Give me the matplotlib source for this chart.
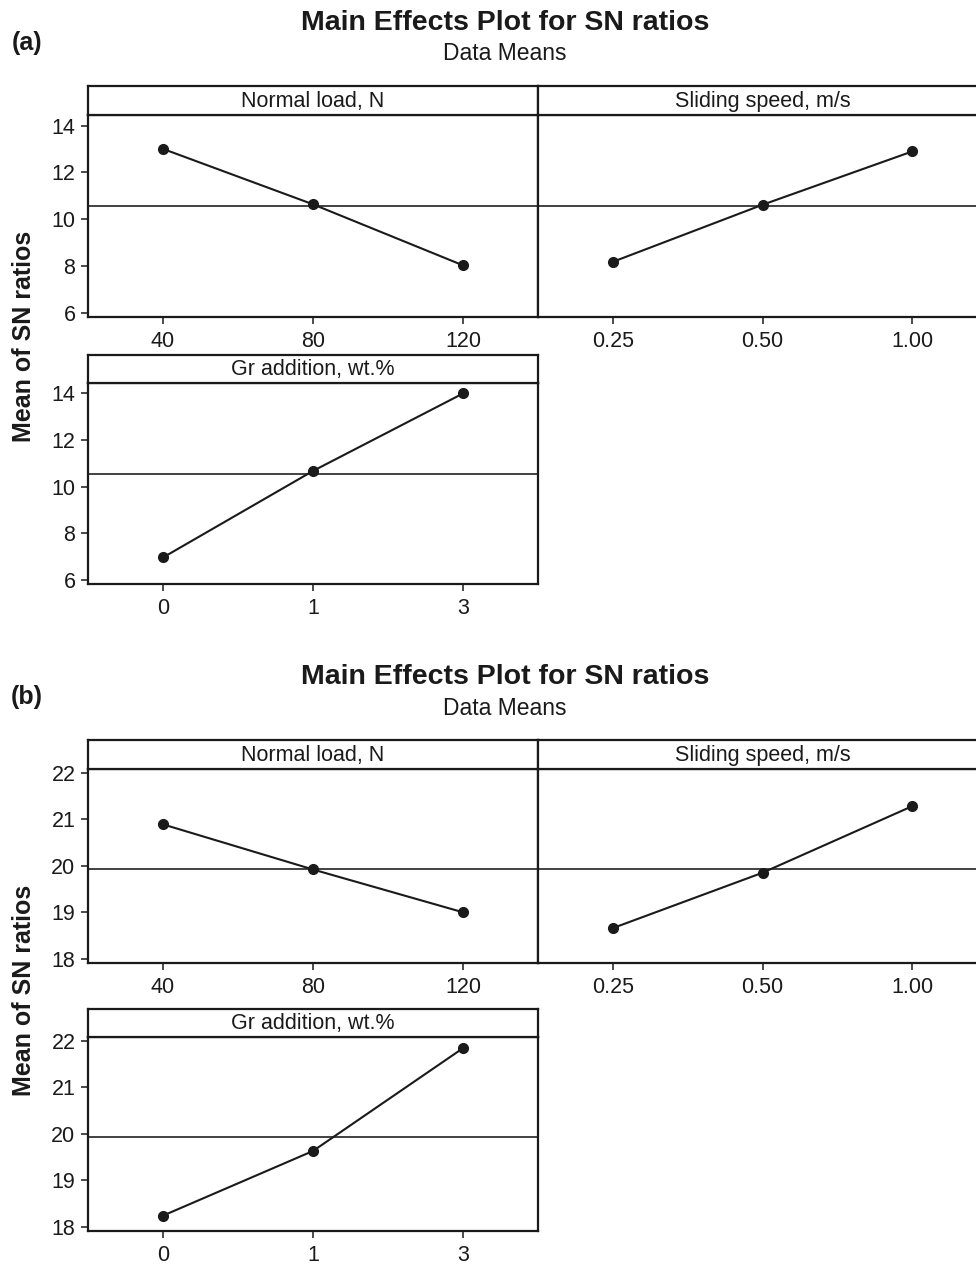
import numpy as np
import matplotlib
matplotlib.use("Agg")
import matplotlib.pyplot as plt

plt.rcParams['font.family'] = ['Liberation Sans', 'DejaVu Sans']

# factor names and levels
factors = ['Normal load, N', 'Sliding speed, m/s', 'Gr addition, wt.%']
levels_load = ['40', '80', '120']
levels_speed = ['0.25', '0.50', '1.00']
levels_gr = ['0', '1', '3']

# (a) mean of SN ratios per level
sn_a_load = [13.00, 10.63, 8.02]
sn_a_speed = [8.17, 10.61, 12.89]
sn_a_gr = [6.95, 10.67, 14.00]

# (b) mean of SN ratios per level
sn_b_load = [20.89, 19.92, 19.00]
sn_b_speed = [18.66, 19.85, 21.28]
sn_b_gr = [18.24, 19.63, 21.84]

yticks_a = [6, 8, 10, 12, 14]
yticks_b = [18, 19, 20, 21, 22]

W, H = 976, 1267
INK = '#1a1a1a'


def box(x0, x1, y0, y1):
    # pixel box (top-left origin) -> figure fraction rect
    return [x0 / W, 1 - y1 / H, (x1 - x0) / W, (y1 - y0) / H]


def panel(fig, x0, x1, top, hdr, bot, levels, vals, grand, ylim, yticks, name, show_y):
    ax = fig.add_axes(box(x0, x1, hdr, bot))
    hx = fig.add_axes(box(x0, x1, top, hdr))
    xs = np.arange(len(levels))
    ax.axhline(grand, color='#333333', lw=1.3, zorder=1)
    ax.plot(xs, vals, color=INK, lw=1.5, marker='o', ms=7, zorder=3)
    ax.set_xlim(-0.5, len(levels) - 0.5)
    ax.set_ylim(*ylim)
    ax.set_xticks(xs)
    ax.set_xticklabels(levels)
    ax.tick_params(axis='x', length=5, width=1.1, pad=5, labelsize=15.5, colors=INK)
    if show_y:
        ax.set_yticks(yticks)
        ax.tick_params(axis='y', length=5, width=1.1, pad=4, labelsize=15.5, colors=INK)
    else:
        ax.set_yticks([])
    for sp in ax.spines.values():
        sp.set_linewidth(1.6)
        sp.set_color(INK)
    hx.set_xticks([])
    hx.set_yticks([])
    for sp in hx.spines.values():
        sp.set_linewidth(1.6)
        sp.set_color(INK)
    hx.text(0.5, 0.47, name, ha='center', va='center', fontsize=15.5, color=INK,
            transform=hx.transAxes)
    return ax


def effects_plot(fig, dy, data, ylim, yticks, tag):
    load, speed, gr = data
    grand = np.mean(load + speed + gr)
    fig.text(505 / W, 1 - (23 + dy) / H, 'Main Effects Plot for SN ratios', ha='center',
             va='center', fontsize=20.5, fontweight='bold', color=INK)
    fig.text(505 / W, 1 - (54 + dy) / H, 'Data Means', ha='center', va='center',
             fontsize=16.5, color=INK)
    fig.text(27 / W, 1 - (43 + dy) / H, tag, ha='center', va='center',
             fontsize=18, fontweight='bold', color=INK)
    fig.text(24 / W, 1 - (336 + dy) / H, 'Mean of SN ratios', ha='center', va='center',
             rotation=90, fontsize=18, fontweight='bold', color=INK)
    top1, hdr1, bot1 = (86 + dy, 115 + dy, 317 + dy)
    top2, hdr2, bot2 = (355 + dy, 383 + dy, 584 + dy)
    if dy > 0:
        bot1, bot2 = bot1 - 8, bot2 - 7
    panel(fig, 88, 538, top1, hdr1, bot1, levels_load, load, grand, ylim, yticks, factors[0], True)
    panel(fig, 538, 987, top1, hdr1, bot1, levels_speed, speed, grand, ylim, yticks, factors[1], False)
    panel(fig, 88, 538, top2, hdr2, bot2, levels_gr, gr, grand, ylim, yticks, factors[2], True)


fig = plt.figure(figsize=(W / 100, H / 100), dpi=100)
effects_plot(fig, 0, (sn_a_load, sn_a_speed, sn_a_gr), (5.81, 14.45), yticks_a, '(a)')
effects_plot(fig, 654, (sn_b_load, sn_b_speed, sn_b_gr), (17.91, 22.08), yticks_b, '(b)')

fig.savefig('out.png', dpi=100)
